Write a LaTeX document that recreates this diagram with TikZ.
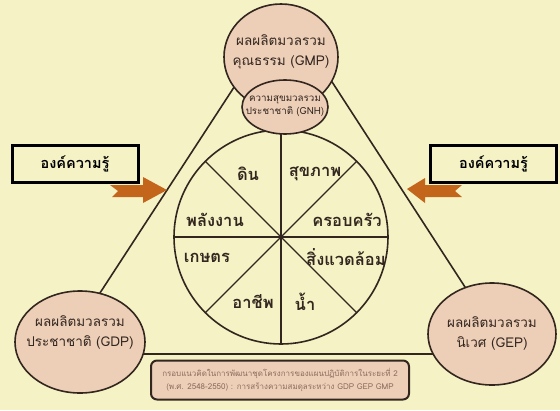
\documentclass[tikz,border=0pt]{standalone}
\usepackage{fontspec}
\newfontfamily\thaifont[Script=Thai]{Loma}
\usetikzlibrary{shapes.geometric}

\definecolor{paper}{HTML}{F5F3C6}
\definecolor{pinkfill}{HTML}{EDCFB8}
\definecolor{inkbrown}{HTML}{33261F}
\definecolor{arroworange}{HTML}{C4651C}
\definecolor{notetext}{HTML}{8C6C5C}

\begin{document}
\begin{tikzpicture}[x=1pt, y=-1pt,
  measure/.style={ellipse, draw=inkbrown, line width=1.6pt, fill=pinkfill, inner sep=0pt},
  measuretext/.style={align=center, text=inkbrown, inner sep=0pt, font=\thaifont\fontsize{13.5}{20}\selectfont},
  sector/.style={text=inkbrown, inner sep=0pt, font=\thaifont\bfseries\fontsize{16.5}{18}\selectfont},
  knowbox/.style={draw=black, line width=3pt, fill=paper, minimum width=126pt, minimum height=37pt, inner sep=0pt, font=\thaifont\bfseries\fontsize{14.5}{16}\selectfont},
  fatarrow/.style={fill=arroworange}]

% background
\fill[paper] (0,0) rectangle (560,410);

% triangle
\coordinate (topL) at (255,55);
\coordinate (topR) at (312,51);
\coordinate (baseL) at (80,354);
\coordinate (baseR) at (492,354);
\draw[inkbrown, line width=1.6pt] (topL) -- (70,339);
\draw[inkbrown, line width=1.6pt] (topR) -- (500,341);
\draw[inkbrown, line width=1.6pt] (baseL) -- (baseR);

% wheel
\node[circle, draw=inkbrown, line width=1.6pt, minimum size=214pt, inner sep=0pt] (wheel) at (281,237) {};
\foreach \a/\b in {0/180, 45/225, 90/270, 135/315}
  \draw[inkbrown, line width=1.4pt] (wheel.\a) -- (wheel.\b);
\node[sector] (soil) at (248,174) {ดิน};
\node[sector] (health) at (315,174) {สุขภาพ};
\node[sector] (energy) at (215,220) {พลังงาน};
\node[sector] (family) at (347,220) {ครอบครัว};
\node[sector] (farm) at (207,258) {เกษตร};
\node[sector] (environ) at (346,257) {สิ่งแวดล้อม};
\node[sector] (career) at (253,302) {อาชีพ};
\node[sector] (water) at (305,302) {น้ำ};

% measures
\node[measure, minimum width=114pt, minimum height=106pt] (gmp) at (281,57) {};
\node[measuretext] (gmp-t) at (281,52) {ผลผลิตมวลรวม\\คุณธรรม (GMP)};
\node[measure, minimum width=86pt, minimum height=54pt] (gnh) at (285,107) {};
\node[measuretext, font=\thaifont\fontsize{9.8}{13}\selectfont] (gnh-t) at (285,106) {ความสุขมวลรวม\\ประชาชาติ (GNH)};
\node[measure, minimum width=130pt, minimum height=102pt] (gdp) at (80,342) {};
\node[measuretext] (gdp-t) at (80,332) {ผลผลิตมวลรวม\\ประชาชาติ (GDP)};
\node[measure, minimum width=128pt, minimum height=102pt] (gep) at (492,334) {};
\node[measuretext] (gep-t) at (492,333) {ผลผลิตมวลรวม\\นิเวศ (GEP)};

% knowledge inputs
\fill[fatarrow] (110,185) -- (143,185) -- (143,177) -- (167,190) -- (143,203) -- (143,197) -- (112,197) -- (118,191) -- cycle;
\fill[fatarrow] (462,185) -- (425,185) -- (425,178) -- (407,189) -- (425,203) -- (425,197) -- (462,197) -- (455,191) -- cycle;
\node[knowbox] (knowL) at (75,163.5) {องค์ความรู้};
\node[knowbox] (knowR) at (493.5,163.5) {องค์ความรู้};

% caption
\node[draw=inkbrown, line width=2pt, fill=pinkfill, rounded corners=6pt, minimum width=258pt, minimum height=39pt, align=center, text=notetext, font=\thaifont\fontsize{8}{13}\selectfont] (note) at (280,380) {กรอบแนวคิดในการพัฒนาชุดโครงการของแผนปฏิบัติการในระยะที่ 2\\(พ.ศ. 2548-2550) : การสร้างความสมดุลระหว่าง GDP GEP GMP};

\end{tikzpicture}
\end{document}
